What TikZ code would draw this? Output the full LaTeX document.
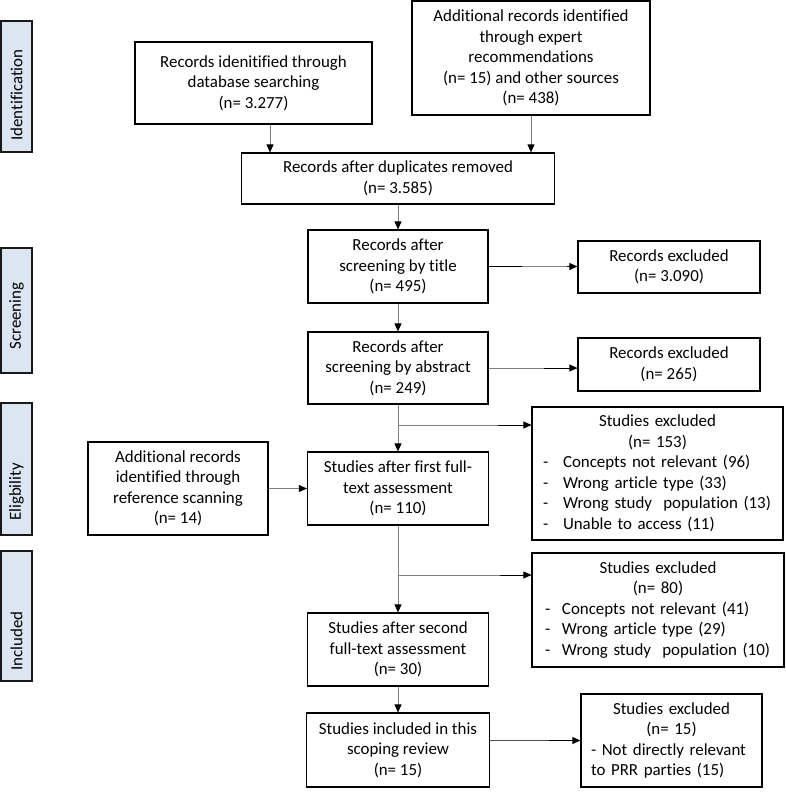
\documentclass[tikz,border=0pt]{standalone}
\usepackage{fontspec}
\setmainfont{Carlito}[Ligatures=NoCommon]
\usetikzlibrary{arrows.meta,calc}
\definecolor{lblfill}{RGB}{220,230,242}
\definecolor{conngray}{RGB}{128,128,128}
\newcommand{\dashitem}[1]{\leavevmode\hbox to #1{-\hfil}}
\tikzset{
  fnt/.style={font=\fontsize{16.9}{20.5}\selectfont},
  bx/.style={draw=black, line width=1.2pt, fill=white, fnt, align=center, inner sep=0pt},
  lbx/.style={draw=black, line width=1.2pt, fill=white, fnt, inner ysep=0pt},
  lbl/.style={draw=black!90, line width=1.4pt, fill=lblfill, minimum width=31pt, inner sep=0pt},
  lbltxt/.style={fnt, rotate=90, inner sep=0pt},
  conn/.style={draw=conngray, line width=0.9pt},
  arr/.style={conn, -{Triangle[length=8pt,width=7pt,color=black]}},
  tipk/.style={draw=black, line width=0.9pt, -{Triangle[length=8pt,width=7pt]}}
}
\begin{document}
\begin{tikzpicture}[x=1pt,y=-1pt]
\useasboundingbox (0,0) rectangle (785,792);

% phase labels
\node[lbl, minimum height=131pt] (lid) at (16.5,86.5) {};
\node[lbltxt] (tid) at (16.5,95) {Identification};
\node[lbl, minimum height=125pt] (lsc) at (16.5,310.5) {};
\node[lbltxt] (tsc) at (16.5,316) {Screening};
\node[lbl, minimum height=132pt] (lel) at (16.5,469) {};
\node[lbltxt] (tel) at (16.5,492) {Eligbility};
\node[lbl, minimum height=130pt] (lin) at (16.5,616) {};
\node[lbltxt] (tin) at (16.5,641) {Included};

% main boxes
\node[bx, minimum width=237pt, minimum height=82pt] (b1) at (253.5,83)
  {Records idenitified through\\database searching\\(n= 3.277)};
\node[bx, minimum width=238pt, minimum height=114pt] (b2) at (531,58)
  {Additional records identified\\through expert\\recommendations\\(n= 15) and other sources\\(n= 438)};
\node[bx, minimum width=313pt, minimum height=51pt] (b3) at (398,178.5)
  {Records after duplicates removed\\(n= 3.585)};
\node[bx, minimum width=180pt, minimum height=73pt] (b4) at (398,266.5)
  {Records after\\screening by title\\(n= 495)};
\node[bx, minimum width=182pt, minimum height=52pt] (e1) at (669,267)
  {Records excluded\\(n= 3.090)};
\node[bx, minimum width=180pt, minimum height=72pt] (b5) at (398,368)
  {Records after\\screening by abstract\\(n= 249)};
\node[bx, minimum width=182pt, minimum height=53pt] (e2) at (669,364.5)
  {Records excluded\\(n= 265)};
\node[lbx, inner xsep=11pt, text width=229pt, minimum height=133pt] (e153) at (657.5,473.5)
  {{\centering Studies excluded\\(n= 153)\par}\raggedright
   \dashitem{20pt}Concepts not relevant (96)\\
   \dashitem{20pt}Wrong article type (33)\\
   \dashitem{20pt}Wrong study~ population (13)\\
   \dashitem{20pt}Unable to access (11)};
\node[bx, minimum width=180pt, minimum height=93pt] (ref) at (178,488.5)
  {Additional records\\identified through\\reference scanning\\(n= 14)};
\node[bx, minimum width=181pt, minimum height=73pt] (bf) at (398,488.5)
  {Studies after first full-\\text assessment\\(n= 110)};
\node[lbx, inner xsep=13pt, text width=226pt, minimum height=114pt] (e80) at (658,610)
  {{\centering Studies excluded\\(n= 80)\par}\raggedright
   \dashitem{17pt}Concepts not relevant (41)\\
   \dashitem{17pt}Wrong article type (29)\\
   \dashitem{17pt}Wrong study~ population (10)};
\node[bx, minimum width=181pt, minimum height=73pt] (b6) at (398,649.5)
  {Studies after second\\full-text assessment\\(n= 30)};
\node[bx, minimum width=183pt, minimum height=74pt] (b7) at (398,750)
  {Studies included in this\\scoping review\\(n= 15)};
\node[lbx, inner xsep=10pt, text width=161pt, minimum height=93pt] (e15) at (671.5,740.5)
  {{\centering Studies excluded\\(n= 15)\par}\raggedright
   - Not directly relevant\\
   to PRR parties (15)};

% helper coordinates
\coordinate (xa) at (270,0);
\coordinate (br1) at (398,425);
\coordinate (br2) at (398,575);
\coordinate (h1) at (e1.west |- b4.east);
\coordinate (h2) at (e2.west |- b5.east);
\coordinate (h3) at (e153.west |- br1);
\coordinate (h4) at (bf.west |- ref.east);
\coordinate (h5) at (e80.west |- br2);
\coordinate (s7) at (b7.east |- e15.west);

% vertical connectors
\draw[arr] (b1.south -| xa) -- (b3.north -| xa);
\draw[arr] (b2.south) -- (b2.south |- b3.north);
\draw[arr] (b3.south) -- (b4.north);
\draw[arr] (b4.south) -- (b5.north);
\draw[arr] (b5.south) -- (bf.north);
\draw[arr] (bf.south) -- (b6.north);
\draw[arr] (b6.south) -- (b7.north);

% horizontal connectors
\draw[conn] (b4.east) -- (h1);
\draw[tipk] ([xshift=-10pt]h1) -- (h1);
\draw[draw=black, line width=0.9pt] (b4.east) -- ([xshift=33pt]b4.east);
\draw[conn] (b5.east) -- (h2);
\draw[tipk] ([xshift=-33pt]h2) -- (h2);
\draw[conn] (br1) -- (h3);
\draw[tipk] ([xshift=-33pt]h3) -- (h3);
\draw[conn] (ref.east) -- (h4);
\draw[tipk] ([xshift=-6pt]h4) -- (h4);
\draw[conn] (br2) -- (h5);
\draw[tipk] ([xshift=-31pt]h5) -- (h5);
\draw[draw=black!70, line width=0.9pt] (s7) -- (e15.west);
\draw[tipk] ([xshift=-31pt]e15.west) -- (e15.west);
\end{tikzpicture}
\end{document}
